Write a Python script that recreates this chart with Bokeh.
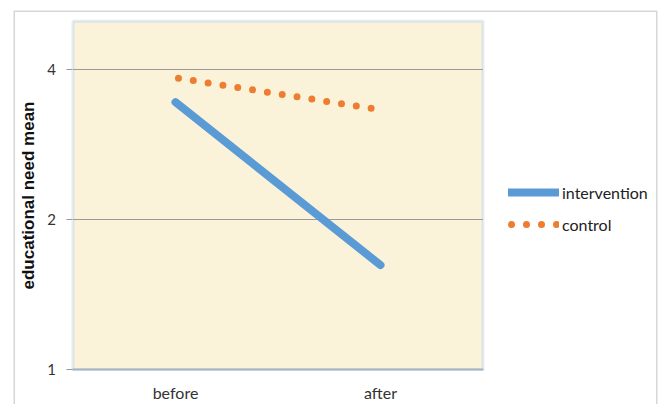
from bokeh.plotting import figure
from bokeh.models import Range1d, FixedTicker, PrintfTickFormatter, Legend, LegendItem, BoxAnnotation
from bokeh.embed import file_html
from bokeh.resources import INLINE

categories = ["before", "after"]
intervention = [3.44, 1.62]
control = [3.85, 3.32]
y_ticks = [1, 2, 4]
y_min, y_max = 1, 5

# category i is drawn at the centre of its band [i, i+1]
x_pos = [i + 0.5 for i in range(len(categories))]
grid_vals = [t for t in y_ticks if t > y_min]

# the frame is the whole outer box; the plot area is the band [0, n] x [1, 5]
p = figure(width=660, height=404, x_range=Range1d(-0.2902, 2.8512),
           y_range=Range1d(0.8507, 5.254), y_axis_type="log",
           output_backend="svg", toolbar_location=None,
           min_border_left=13, min_border_right=3, min_border_top=10, min_border_bottom=0)

p.background_fill_color = "white"
p.border_fill_color = "white"
p.outline_line_color = None
p.xgrid.visible = False
p.ygrid.visible = False

# outer frame (open at the bottom, as in the cropped original)
outer = BoxAnnotation(left=None, right=None, top=None, bottom=0.5,
                      fill_alpha=0, line_color="#7A7A7A", line_width=3, level="underlay")
p.add_layout(outer)

plot_area = BoxAnnotation(left=0, right=len(categories), bottom=y_min, top=y_max,
                          fill_color="#FBF2DA", fill_alpha=1,
                          line_color="#9BC2E6", line_width=3, level="underlay")
p.add_layout(plot_area)

p.segment(x0=[0] * len(grid_vals), x1=[len(categories)] * len(grid_vals),
          y0=grid_vals, y1=grid_vals, line_color="#9A9A9A", line_width=1)

r1 = p.line(x_pos, intervention, line_color="#5B9BD5", line_width=8, line_cap="round")
r2 = p.line(x_pos, control, line_color="#ED7D31", line_width=7, line_cap="round",
            line_dash="0 15", line_dash_offset=-3)

p.yaxis.fixed_location = 0
p.yaxis.bounds = (y_min, y_max)
p.yaxis.ticker = FixedTicker(ticks=y_ticks, minor_ticks=[])
p.yaxis.formatter = PrintfTickFormatter(format="%d")
p.yaxis.axis_label = "educational need mean"
p.yaxis.axis_label_text_font = "Liberation Sans"
p.yaxis.axis_label_text_font_style = "bold"
p.yaxis.axis_label_text_font_size = "17px"
p.yaxis.axis_label_text_color = "#111111"
p.yaxis.axis_label_standoff = 6
p.yaxis.major_label_text_font = "Lato"
p.yaxis.major_label_text_font_size = "15px"
p.yaxis.major_label_text_color = "#333333"
p.yaxis.major_label_standoff = 11
p.yaxis.major_tick_line_color = "#999999"
p.yaxis.major_tick_out = 6
p.yaxis.major_tick_in = 0
p.yaxis.minor_tick_line_color = None
p.yaxis.axis_line_color = None

p.xaxis.fixed_location = y_min
p.xaxis.ticker = FixedTicker(ticks=x_pos, minor_ticks=[])
p.xaxis.major_label_overrides = {x: c for x, c in zip(x_pos, categories)}
p.xaxis.bounds = (0, len(categories))
p.xaxis.major_tick_line_color = None
p.xaxis.major_tick_out = 0
p.xaxis.major_tick_in = 0
p.xaxis.minor_tick_line_color = None
p.xaxis.axis_line_color = "#A8B4C0"
p.xaxis.axis_line_width = 2
p.xaxis.major_label_text_font = "Lato"
p.xaxis.major_label_text_font_size = "16px"
p.xaxis.major_label_text_color = "#333333"
p.xaxis.major_label_standoff = 13

legend = Legend(items=[LegendItem(label="intervention", renderers=[r1]),
                       LegendItem(label="control", renderers=[r2])],
                location=(495, 170), glyph_width=51, glyph_height=20,
                label_standoff=3, spacing=12, padding=0, margin=0,
                border_line_color=None, background_fill_alpha=0,
                label_text_font="Lato", label_text_font_size="16px",
                label_text_color="#222222")
p.add_layout(legend)

open("out.html", "w").write(file_html(p, INLINE))
